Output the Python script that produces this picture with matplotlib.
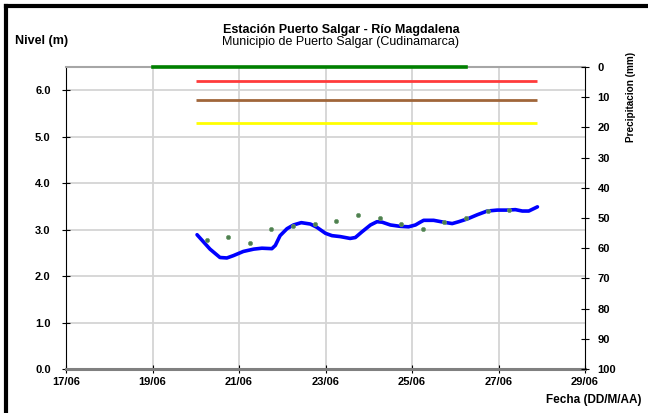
import numpy as np
import matplotlib
matplotlib.use('Agg')
import matplotlib.pyplot as plt
from matplotlib.lines import Line2D

plt.rcParams['font.family'] = ['Liberation Sans', 'DejaVu Sans']

# Nivel (m), series continua (dia de junio)
level_t = [20.03, 20.33, 20.56, 20.72, 20.87, 21.10, 21.34, 21.53, 21.76, 21.84,
           21.95, 22.11, 22.26, 22.44, 22.65, 22.80, 23.00, 23.15, 23.34, 23.57,
           23.69, 23.84, 24.04, 24.19, 24.31, 24.50, 24.73, 24.92, 25.08, 25.19,
           25.27, 25.50, 25.73, 25.93, 26.08, 26.28, 26.51, 26.74, 26.97, 27.20,
           27.39, 27.55, 27.70, 27.90]
levels = [2.89, 2.58, 2.40, 2.39, 2.44, 2.53, 2.58, 2.60, 2.59, 2.66,
          2.87, 3.02, 3.10, 3.15, 3.12, 3.05, 2.92, 2.87, 2.85, 2.81,
          2.83, 2.95, 3.10, 3.17, 3.16, 3.10, 3.07, 3.06, 3.10, 3.16,
          3.20, 3.20, 3.16, 3.13, 3.17, 3.23, 3.32, 3.40, 3.42, 3.42,
          3.43, 3.40, 3.40, 3.49]

# lecturas de mira
obs_t = [20.25, 20.75, 21.25, 21.75, 22.25, 22.75, 23.25, 23.75,
         24.25, 24.75, 25.25, 25.75, 26.25, 26.75, 27.25]
obs_levels = [2.78, 2.84, 2.71, 3.02, 3.07, 3.13, 3.19, 3.31,
              3.25, 3.13, 3.02, 3.16, 3.24, 3.40, 3.43]

# umbrales
thr_start, thr_end = 20.0, 27.9
thr_red = 6.2
thr_brown = 5.8
thr_yellow = 5.3

# precipitacion (mm)
precip_t = [19.0, 20.0, 21.0, 22.0, 23.0, 24.0, 25.0, 26.0, 26.25]
precip = [0, 0, 0, 0, 0, 0, 0, 0, 0]

xticks = [17, 19, 21, 23, 25, 27, 29]
xlabels = ['17/06', '19/06', '21/06', '23/06', '25/06', '27/06', '29/06']
yticks = [0, 1, 2, 3, 4, 5, 6]
ylabels = ['0.0', '1.0', '2.0', '3.0', '4.0', '5.0', '6.0']
rticks = [0, 10, 20, 30, 40, 50, 60, 70, 80, 90, 100]

fig = plt.figure(figsize=(6.48, 4.13), dpi=100)
ax = fig.add_axes([66/648, 1-369/413, (585-66)/648, (369-67)/413])

ax.set_xlim(17, 29)
ax.set_ylim(0, 6.5)
ax.set_xticks(xticks)
ax.set_xticklabels(xlabels, fontsize=8, fontweight='bold')
ax.set_yticks(yticks)
ax.set_yticklabels(ylabels, fontsize=8, fontweight='bold')
ax.tick_params(axis='y', direction='inout', length=6, width=0.8, pad=8)
ax.tick_params(axis='x', direction='inout', length=6, width=0.8, pad=3)

for x in xticks[1:-1]:
    ax.axvline(x, color='#d4d4d4', lw=1.3, zorder=0)
for y in yticks[1:]:
    ax.axhline(y, color='#d4d4d4', lw=1.3, zorder=0)

ax.spines['left'].set_color('black')
ax.spines['left'].set_linewidth(0.8)
ax.spines['bottom'].set_color('#808080')
ax.spines['bottom'].set_linewidth(2.2)
ax.spines['top'].set_color('#a6a6a6')
ax.spines['top'].set_linewidth(1.5)
ax.spines['right'].set_visible(False)

ax.hlines([thr_red], thr_start, thr_end, color='#ff3b3b', lw=2)
ax.hlines([thr_brown], thr_start, thr_end, color='#a0663a', lw=2)
ax.hlines([thr_yellow], thr_start, thr_end, color='#ffff00', lw=2)

ax.plot(level_t, levels, color='#0000ff', lw=2.6, solid_joinstyle='round',
        solid_capstyle='round', zorder=4)
ax.plot(obs_t, obs_levels, ls='none', marker='o', ms=3, mfc='#4f7f4f',
        mec='#6a9a6a', mew=0.5, zorder=5)

ax2 = ax.twinx()
ax2.set_ylim(100, 0)
ax2.set_yticks(rticks)
ax2.set_yticklabels([str(v) for v in rticks], fontsize=8, fontweight='bold')
ax2.tick_params(axis='y', direction='inout', length=6, width=0.8, pad=6)
for s in ['left', 'top', 'bottom']:
    ax2.spines[s].set_visible(False)
ax2.spines['right'].set_color('black')
ax2.spines['right'].set_linewidth(0.8)
ax2.plot(precip_t, precip, color='#008000', lw=2.6, clip_on=False, zorder=6)

fig.text(341/648, 1-30/413, 'Estación Puerto Salgar - Río Magdalena',
         ha='center', va='center', fontsize=9, fontweight='bold')
fig.text(341/648, 1-42/413, 'Municipio de Puerto Salgar (Cudinamarca)',
         ha='center', va='center', fontsize=9)
fig.text(15/648, 1-41/413, 'Nivel (m)', ha='left', va='center',
         fontsize=9, fontweight='bold')
fig.text(641/648, 1-400/413, 'Fecha (DD/M/AA)', ha='right', va='center',
         fontsize=8.5, fontweight='bold')
fig.text(631/648, 1-97/413, 'Precipitacion (mm)', ha='center', va='center',
         rotation=90, fontsize=7.2, fontweight='bold')

# marco
fig.add_artist(Line2D([6/648, 6/648], [0, 1-6/413], color='black', lw=3,
                      transform=fig.transFigure))
fig.add_artist(Line2D([6/648, 1], [1-6/413, 1-6/413], color='black', lw=3,
                      transform=fig.transFigure))

fig.savefig('out.png', dpi=100)
